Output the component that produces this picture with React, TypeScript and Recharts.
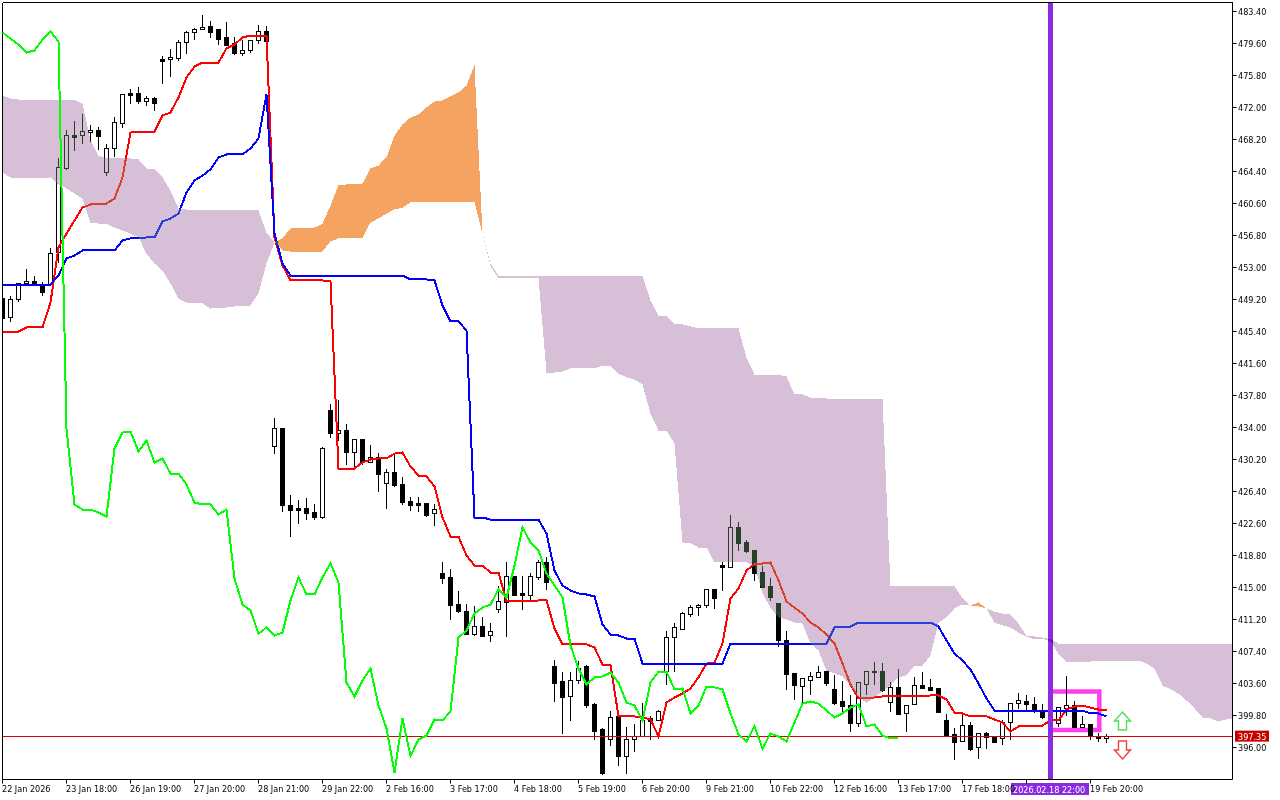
import {
  Area,
  Bar,
  ComposedChart,
  Line,
  ReferenceArea,
  ReferenceDot,
  ReferenceLine,
  XAxis,
  YAxis,
} from "recharts"

const opens = [
  449.32, 447.07, 449.2, 451.1, 451.34, 450.98, 450.98, 454.78, 464.76, 468.67,
  468.67, 469.03, 469.27, 464.28, 467.13, 470.1, 473.66, 473.66, 472.71, 473.07,
  477.7, 477.7, 477.82, 479.72, 480.91, 481.26, 481.62, 481.26, 480.31, 479.6,
  478.41, 478.77, 479.96, 481.02, 431.74, 433.88, 424.74, 424.38, 424.38, 423.9,
  423.31, 436.02, 433.28, 433.64, 431.03, 432.58, 429.85, 430.44, 427.35, 428.65,
  427.23, 425.21, 424.97, 424.97, 423.78, 416.66, 416.19, 412.98, 412.15, 409.41,
  410.36, 409.3, 412.39, 413.22, 416.31, 414.29, 414.05, 416.19, 417.97, 405.62,
  403.84, 402.06, 403.96, 405.62, 401.1, 398.14, 396.95, 399.69, 394.94, 396.95,
  397.31, 399.45, 399.21, 405.02, 409.07, 410.01, 411.79, 412.62, 412.87, 414.76,
  417.61, 417.37, 422.13, 420.35, 419.39, 416.78, 415.12, 413.1, 408.71, 404.79,
  403.24, 403.96, 404.32, 405.02, 402.89, 401.46, 400.98, 398.85, 403.48, 404.91,
  405.02, 401.34, 403.13, 400.04, 401.1, 403.36, 403.13, 403.01, 399.21, 397.55,
  396.71, 398.61, 396.0, 397.66, 397.31, 397.07, 398.97, 401.22, 401.46, 401.1,
  400.27, 399.21, 398.85, 400.63, 400.98, 398.38, 398.73, 397.31, 397.07,
]
const highs = [
  449.32, 449.56, 451.1, 452.88, 452.05, 451.22, 455.26, 465.95, 469.27, 470.34,
  471.17, 469.98, 469.63, 467.72, 470.93, 473.66, 474.14, 474.38, 473.42, 473.19,
  478.06, 478.89, 479.96, 481.14, 481.5, 482.93, 482.22, 481.26, 482.1, 480.43,
  480.07, 479.96, 481.74, 481.62, 435.07, 433.88, 426.04, 425.45, 425.57, 424.86,
  431.74, 436.85, 437.21, 434.47, 432.58, 432.58, 431.87, 431.03, 429.13, 430.68,
  428.18, 425.69, 425.69, 424.97, 424.97, 417.97, 417.14, 414.64, 413.1, 412.75,
  411.55, 410.84, 415.12, 417.97, 416.31, 416.31, 416.78, 418.32, 418.68, 406.45,
  404.91, 404.91, 406.33, 405.85, 401.34, 398.26, 400.39, 399.69, 398.38, 398.85,
  401.34, 399.8, 400.51, 409.89, 410.84, 412.15, 412.87, 413.1, 414.88, 414.88,
  417.97, 423.66, 422.72, 420.7, 419.51, 417.61, 416.07, 413.1, 409.89, 404.79,
  404.2, 404.91, 405.62, 405.02, 404.56, 403.84, 402.18, 403.72, 405.14, 406.21,
  406.09, 403.72, 405.38, 401.1, 404.32, 404.91, 404.08, 403.01, 399.92, 398.26,
  400.27, 398.97, 397.66, 397.9, 397.42, 399.21, 401.34, 402.53, 402.18, 401.94,
  401.22, 400.39, 400.75, 404.44, 401.58, 399.8, 398.73, 397.78, 397.66,
]
const lows = [
  446.95, 446.47, 448.96, 450.98, 450.86, 449.67, 450.86, 453.59, 464.52, 466.89,
  467.72, 467.96, 467.01, 463.92, 466.07, 469.51, 472.47, 472.47, 472.12, 471.64,
  474.85, 475.68, 477.58, 478.41, 480.07, 481.26, 480.31, 479.48, 479.36, 478.29,
  478.06, 478.53, 479.6, 479.84, 430.91, 424.02, 420.94, 422.6, 422.96, 422.96,
  423.19, 432.81, 432.34, 429.49, 429.25, 429.49, 429.85, 426.4, 424.38, 426.88,
  424.74, 424.14, 424.02, 423.42, 422.25, 415.47, 411.2, 412.03, 409.41, 409.3,
  409.18, 408.47, 412.03, 409.18, 414.05, 412.27, 413.46, 415.95, 414.76, 401.46,
  397.55, 399.09, 403.6, 400.74, 396.95, 392.79, 396.12, 393.86, 392.91, 395.41,
  397.19, 396.95, 399.21, 403.48, 405.02, 410.01, 411.55, 411.67, 412.51, 412.39,
  414.64, 417.37, 419.39, 419.15, 415.83, 415.0, 413.34, 407.99, 402.77, 401.7,
  401.34, 402.18, 404.2, 403.36, 401.1, 400.27, 397.9, 398.38, 402.18, 403.48,
  402.65, 400.27, 399.92, 397.9, 401.1, 403.25, 402.77, 400.04, 397.19, 394.46,
  396.71, 395.64, 394.58, 395.88, 396.59, 396.24, 396.95, 400.63, 400.51, 400.04,
  399.33, 398.85, 398.38, 399.8, 398.38, 398.38, 396.95, 396.71, 396.59,
]
const closes = [
  446.95, 449.2, 451.1, 451.34, 450.98, 450.03, 454.66, 464.88, 468.67, 468.44,
  469.15, 469.27, 468.56, 467.13, 470.22, 473.54, 473.42, 472.71, 473.07, 472.47,
  477.46, 477.94, 479.72, 480.91, 481.26, 481.5, 480.91, 480.07, 479.36, 478.41,
  478.77, 479.96, 481.02, 479.84, 433.88, 424.74, 424.14, 424.14, 423.78, 423.31,
  431.51, 433.28, 433.64, 431.03, 432.58, 429.85, 430.44, 428.41, 428.65, 427.11,
  425.09, 424.74, 424.74, 423.54, 424.26, 416.07, 412.87, 412.15, 409.41, 410.36,
  409.18, 409.77, 413.34, 416.31, 414.05, 414.05, 416.31, 417.97, 415.59, 403.6,
  401.94, 403.96, 405.38, 400.98, 397.9, 392.91, 399.57, 394.94, 396.95, 397.31,
  399.21, 399.09, 400.27, 409.07, 410.25, 411.91, 412.62, 412.87, 414.76, 413.7,
  417.37, 422.13, 420.23, 419.27, 416.66, 415.0, 413.82, 408.71, 404.67, 403.36,
  404.2, 404.44, 404.91, 403.6, 401.22, 400.86, 398.85, 403.72, 405.02, 405.02,
  402.77, 403.13, 399.92, 400.98, 403.36, 403.01, 402.77, 400.15, 397.42, 396.59,
  398.61, 395.76, 397.66, 397.19, 396.59, 398.97, 401.22, 401.58, 401.1, 400.51,
  399.57, 399.92, 400.75, 400.98, 398.38, 398.73, 397.31, 397.07, 397.31,
]

const tenkan = [
  445.4, 445.4, 445.4, 445.88, 445.88, 445.88, 448.84, 455.38, 457.03, 458.58,
  460.12, 460.48, 460.6, 460.6, 461.19, 463.69, 469.03, 469.15, 469.15, 469.15,
  471.05, 471.41, 473.19, 475.56, 476.87, 477.34, 477.34, 477.34, 479.01, 479.48,
  480.31, 480.55, 480.55, 480.55, 456.57, 453.24, 451.46, 451.46, 451.46, 451.46,
  451.46, 451.34, 429.13, 429.13, 429.13, 429.85, 430.2, 430.32, 430.32, 430.91,
  431.03, 429.37, 428.3, 428.18, 427.0, 423.31, 421.05, 421.05, 418.8, 417.61,
  417.61, 416.78, 416.78, 413.34, 413.34, 413.34, 413.34, 413.46, 413.46, 410.13,
  408.24, 408.24, 408.24, 408.24, 407.88, 405.85, 405.85, 399.69, 399.69, 399.69,
  399.57, 399.33, 397.31, 401.34, 401.94, 402.41, 403.01, 404.32, 405.97, 406.09,
  408.35, 413.7, 414.88, 417.02, 417.73, 417.85, 417.97, 415.83, 413.34, 412.62,
  411.91, 410.84, 410.25, 409.41, 408.35, 405.97, 403.48, 401.82, 401.82, 401.94,
  402.06, 402.06, 402.06, 402.06, 402.06, 402.06, 402.18, 402.18, 401.7, 400.15,
  400.04, 399.69, 399.69, 399.69, 399.33, 398.97, 397.9, 398.5, 398.5, 398.61,
  398.61, 399.21, 399.21, 400.51, 400.86, 400.98, 400.74, 400.51, 400.51,
]
const kijun = [
  450.98, 450.98, 450.98, 450.98, 450.98, 450.98, 450.98, 452.05, 454.07, 454.43,
  455.02, 455.02, 455.02, 455.02, 455.02, 456.21, 456.45, 456.45, 456.57, 456.57,
  458.46, 458.82, 459.41, 461.91, 463.33, 463.92, 464.64, 466.07, 466.42, 466.42,
  466.42, 467.13, 468.32, 473.54, 457.03, 453.47, 452.05, 452.05, 452.05, 452.05,
  452.05, 452.05, 452.05, 452.05, 452.05, 452.05, 452.05, 452.05, 452.05, 452.05,
  452.05, 451.58, 451.58, 451.58, 451.46, 448.49, 446.59, 446.59, 445.52, 423.31,
  423.31, 423.07, 423.07, 423.07, 423.07, 423.07, 423.07, 423.07, 421.41, 417.02,
  415.24, 414.64, 414.29, 414.17, 413.93, 410.6, 409.41, 409.3, 408.94, 408.94,
  405.97, 405.97, 405.97, 405.97, 405.97, 405.97, 405.97, 405.97, 405.97, 405.97,
  405.97, 408.35, 408.35, 408.35, 408.35, 408.35, 408.35, 408.35, 408.35, 408.35,
  408.35, 408.35, 408.35, 408.35, 410.25, 410.36, 410.36, 410.84, 410.84, 410.84,
  410.84, 410.84, 410.84, 410.84, 410.84, 410.84, 410.84, 410.36, 408.71, 407.16,
  406.33, 405.26, 403.6, 401.82, 400.39, 400.39, 400.39, 400.39, 400.39, 400.39,
  400.39, 400.39, 400.39, 400.39, 400.39, 400.39, 400.04, 400.04, 399.69,
]
const chikou = [
  480.91, 480.19, 479.48, 478.53, 478.77, 480.07, 481.02, 479.84, 433.88, 424.86,
  424.26, 424.26, 423.9, 423.42, 431.51, 433.4, 433.52, 431.15, 432.46, 429.85,
  430.32, 428.53, 428.53, 427.23, 425.09, 424.86, 424.86, 423.67, 424.26, 416.07,
  412.98, 412.27, 409.53, 410.25, 409.3, 409.65, 413.46, 416.19, 414.17, 414.17,
  416.19, 417.85, 415.59, 403.72, 402.06, 403.96, 405.38, 400.98, 398.26, 393.03,
  399.45, 394.99, 396.95, 397.42, 399.33, 399.21, 400.27, 409.07, 409.89, 411.91,
  412.62, 412.98, 414.76, 413.82, 417.61, 422.13, 420.35, 419.39, 416.66, 415.24,
  413.82, 408.12, 405.38, 403.48, 404.32, 404.44, 404.91, 403.72, 401.34, 400.98,
  399.21, 403.72, 405.02, 405.02, 402.89, 403.01, 400.04, 400.98, 403.24, 403.13,
  402.89, 400.04, 397.55, 396.71, 398.5, 395.88, 397.66, 397.31, 396.71, 398.97,
  401.22, 401.46, 401.22, 400.39, 399.57, 400.04, 400.74, 401.1, 398.5, 398.73,
  397.42, 397.07, 397.19,
]

// A is the lower edge while the cloud is lilac, the upper edge while it is orange
const senkouA = [
  464.28, 463.69, 463.57, 463.57, 463.57, 463.57, 463.69, 462.86, 462.38, 461.79,
  461.19, 458.34, 458.22, 458.22, 457.75, 457.39, 457.03, 456.57, 454.66, 453.47,
  452.64, 451.1, 449.32, 448.84, 448.84, 448.73, 448.13, 448.25, 448.25, 448.37,
  448.37, 448.49, 449.91, 453.47, 455.97, 456.45, 457.63, 457.75, 457.75, 457.75,
  458.22, 460.36, 462.74, 462.86, 462.86, 462.98, 464.76, 465.11, 466.07, 468.67,
  469.98, 470.81, 471.17, 472.0, 472.71, 472.83, 473.31, 473.78, 474.61, 476.99,
  457.03, 453.12, 451.7, 451.7, 451.7, 451.7, 451.7, 451.7, 440.53, 440.53,
  440.65, 441.01, 441.01, 441.01, 441.01, 441.36, 441.36, 440.41, 439.94, 439.7,
  439.11, 435.66, 433.64, 433.64, 432.1, 420.35, 420.23, 419.75, 419.75, 417.97,
  417.97, 417.97, 417.97, 417.97, 417.61, 414.29, 412.62, 411.44, 411.2, 410.84,
  410.72, 408.35, 407.52, 405.14, 404.79, 404.44, 403.36, 401.94, 401.34, 401.94,
  402.65, 403.36, 404.32, 404.56, 405.73, 405.73, 406.92, 410.84, 411.44, 412.51,
  412.98, 412.86, 413.22, 412.51, 410.84, 410.49, 410.25, 409.65, 409.18, 408.83,
  408.94, 408.59, 407.16, 406.21, 406.21, 406.21, 406.21, 406.33, 406.33, 406.33,
  406.33, 406.33, 406.33, 405.97, 405.38, 403.36, 402.89, 402.41, 401.58, 400.63,
  399.57, 399.45, 399.09, 399.33, 399.33,
]
const senkouB = [
  473.42, 473.07, 472.95, 472.95, 472.95, 472.95, 472.95, 472.95, 472.95, 472.95,
  472.47, 468.08, 466.3, 465.95, 465.95, 465.95, 465.95, 465.83, 464.76, 464.64,
  463.69, 462.14, 460.0, 459.88, 459.88, 459.88, 459.88, 459.88, 459.88, 459.88,
  459.88, 459.77, 459.77, 457.15, 455.97, 455.02, 454.9, 454.9, 454.9, 454.9,
  454.9, 456.09, 456.45, 456.45, 456.45, 456.45, 458.34, 458.82, 459.41, 459.89,
  460.12, 460.72, 460.72, 460.72, 460.72, 460.72, 460.72, 460.72, 460.72, 460.72,
  457.03, 453.47, 452.05, 452.05, 452.05, 452.05, 452.05, 452.05, 452.05, 452.05,
  452.05, 452.05, 452.05, 452.05, 452.05, 452.05, 452.05, 452.05, 452.05, 452.05,
  452.05, 449.08, 447.19, 447.19, 446.24, 446.24, 446.0, 445.76, 445.76, 445.76,
  445.76, 445.76, 445.76, 442.31, 440.29, 440.29, 440.29, 440.29, 440.06, 437.92,
  437.92, 437.56, 437.45, 437.45, 437.33, 437.33, 437.33, 437.33, 437.33, 437.33,
  437.33, 415.12, 415.12, 415.12, 415.12, 415.12, 415.12, 415.12, 415.12, 415.12,
  413.7, 412.86, 412.75, 412.51, 412.15, 411.91, 411.79, 410.72, 409.3, 409.18,
  409.06, 408.83, 408.35, 408.35, 408.35, 408.35, 408.35, 408.35, 408.35, 408.35,
  408.35, 408.35, 408.35, 408.35, 408.35, 408.35, 408.35, 408.35, 408.35, 408.35,
  408.35, 408.35, 408.35, 408.35, 408.35,
]

const priceTicks = [
  483.4, 479.6, 475.8, 472.0, 468.2, 464.4, 460.6, 456.8, 453.0, 449.2, 445.4,
  441.6, 437.8, 434.0, 430.2, 426.4, 422.6, 418.8, 415.0, 411.2, 407.4, 403.6,
  399.8, 396.0,
]
const timeLabels = [
  "22 Jan 2026", "23 Jan 18:00", "26 Jan 19:00", "27 Jan 20:00", "28 Jan 21:00",
  "29 Jan 22:00", "2 Feb 16:00", "3 Feb 17:00", "4 Feb 18:00", "5 Feb 19:00",
  "6 Feb 20:00", "9 Feb 21:00", "10 Feb 22:00", "12 Feb 16:00", "13 Feb 17:00",
  "17 Feb 18:00", "", "19 Feb 20:00",
]
const timeTicks = timeLabels.map((_, i) => i * 8)

const lastPrice = 397.35
const cursorBar = 131
const cursorLabel = "2026.02.18 22:00"
const boxBars = [131, 137.1]
const boxPrices = [398.07, 402.65]
const arrowBar = 140
const upArrowPrice = 399.15
const downArrowPrice = 395.7

const FONT = "'DejaVu Sans Condensed', 'DejaVu Sans', sans-serif"
const FONT_SIZE = 9

const data = senkouA.map((a, i) => {
  const b = senkouB[i]
  const hasCandle = i < opens.length
  return {
    i,
    open: opens[i],
    high: highs[i],
    low: lows[i],
    close: closes[i],
    range: hasCandle ? [lows[i], highs[i]] : null,
    tenkan: tenkan[i] ?? null,
    kijun: kijun[i] ?? null,
    chikou: chikou[i] ?? null,
    lilac: a <= b ? [a, b] : null,
    orange: a >= b ? [a, b] : null,
  }
})

const Candle = (props: any) => {
  const { x, y, width, height, payload } = props
  if (!payload || payload.range == null) return null
  const { open, high, low, close } = payload
  const cx = x + width / 2
  const priceY = (p: number) => y + ((high - p) / (high - low)) * height
  const top = priceY(Math.max(open, close))
  const bottom = priceY(Math.min(open, close))
  return (
    <g shapeRendering="crispEdges">
      <line x1={cx} x2={cx} y1={y} y2={y + height} stroke="#000" />
      <rect
        x={cx - 2}
        y={top}
        width={4}
        height={Math.max(bottom - top, 1)}
        fill={close >= open ? "#fff" : "#000"}
        stroke="#000"
      />
    </g>
  )
}

const TimeTick = (props: any) => (
  <text x={props.x - 0.5} y={792} fontSize={FONT_SIZE} fontFamily={FONT} fill="#000">
    {timeLabels[props.payload.value / 8]}
  </text>
)

const PriceTick = (props: any) => (
  <text x={1238} y={props.y + 3.5} fontSize={FONT_SIZE} fontFamily={FONT} fill="#000">
    {props.payload.value.toFixed(2)}
  </text>
)

const PriceTag = (props: any) => {
  const y = props.viewBox.y
  return (
    <g>
      <rect x={1235} y={y - 5.5} width={34} height={11} fill="#c80000" />
      <text x={1238} y={y + 3.5} fontSize={FONT_SIZE} fontFamily={FONT} fill="#fff">
        {lastPrice.toFixed(2)}
      </text>
    </g>
  )
}

const CursorTag = () => (
  <g>
    <rect x={1011} y={783} width={78} height={12} fill="#8a2be2" />
    <text x={1013} y={792.5} fontSize={FONT_SIZE} fontFamily={FONT} fill="#fff">
      {cursorLabel}
    </text>
  </g>
)

const UpArrow = (props: any) => {
  const { cx, cy } = props
  const pts = [
    [0, -9], [8, 0], [4, 0], [4, 9], [-4, 9], [-4, 0], [-8, 0],
  ].map(([dx, dy]) => `${cx + dx},${cy + dy}`).join(" ")
  return <polygon points={pts} fill="#fff" stroke="#4fe04f" strokeWidth={1.4} />
}

const DownArrow = (props: any) => {
  const { cx, cy } = props
  const pts = [
    [0, 9], [8, 0], [4, 0], [4, -9], [-4, -9], [-4, 0], [-8, 0],
  ].map(([dx, dy]) => `${cx + dx},${cy + dy}`).join(" ")
  return <polygon points={pts} fill="#fff" stroke="#f04040" strokeWidth={1.4} />
}

export default function App() {
  return (
    <div style={{ position: "absolute", left: 0, top: 0, width: 1280, height: 800, background: "#fff" }}>
      <style>{`
        .cloud { mix-blend-mode: difference; }
        .recharts-line-curve, .recharts-area-area, .recharts-reference-line-line { shape-rendering: crispEdges; }
      `}</style>
      <ComposedChart
        width={1280}
        height={800}
        data={data}
        margin={{ top: 2.5, right: 0, bottom: 0, left: 2.5 }}>
        <ReferenceArea
          x1={0}
          x2={153.75}
          y1={392.2}
          y2={484.469}
          fill="#fff"
          fillOpacity={1}
          stroke="none"
          zIndex={-200}
        />
        <XAxis
          dataKey="i"
          type="number"
          domain={[0, 153.75]}
          allowDataOverflow
          ticks={timeTicks}
          interval={0}
          height={20.5}
          tickSize={4}
          stroke="#000"
          tick={TimeTick}
        />
        <YAxis
          type="number"
          orientation="right"
          domain={[392.2, 484.469]}
          allowDataOverflow
          ticks={priceTicks}
          interval={0}
          width={47.5}
          tickSize={4}
          stroke="#000"
          tick={PriceTick}
        />
        <ReferenceLine x={0} stroke="#000" />
        <ReferenceLine y={484.469} stroke="#000" />
        <Bar dataKey="range" barSize={8} shape={Candle} isAnimationActive={false} />
        <Line dataKey="tenkan" stroke="#ff0000" strokeWidth={2} dot={false} activeDot={false} isAnimationActive={false} />
        <Line dataKey="kijun" stroke="#0000ff" strokeWidth={2} dot={false} activeDot={false} isAnimationActive={false} />
        <Area
          className="cloud"
          dataKey="lilac"
          stroke="none"
          fill="#274027"
          fillOpacity={1}
          dot={false}
          activeDot={false}
          zIndex={450}
          isAnimationActive={false}
        />
        <Area
          className="cloud"
          dataKey="orange"
          stroke="none"
          fill="#0b5b9f"
          fillOpacity={1}
          dot={false}
          activeDot={false}
          zIndex={450}
          isAnimationActive={false}
        />
        <Line dataKey="chikou" stroke="#00ff00" strokeWidth={2} dot={false} activeDot={false} zIndex={460} isAnimationActive={false} />
        <ReferenceLine y={lastPrice} stroke="#e00000" label={PriceTag} />
        <ReferenceArea
          x1={boxBars[0]}
          x2={boxBars[1]}
          y1={boxPrices[0]}
          y2={boxPrices[1]}
          fill="none"
          stroke="#ff40f0"
          strokeWidth={4.5}
        />
        <ReferenceLine x={cursorBar} stroke="#8a2be2" strokeWidth={5} label={CursorTag} />
        <ReferenceDot x={arrowBar} y={upArrowPrice} r={9} shape={UpArrow} />
        <ReferenceDot x={arrowBar} y={downArrowPrice} r={9} shape={DownArrow} />
      </ComposedChart>
    </div>
  )
}
